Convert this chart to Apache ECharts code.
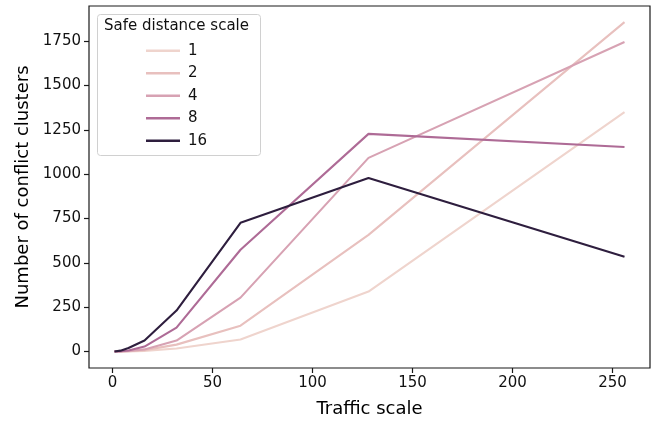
<!DOCTYPE html>
<html><head><meta charset="utf-8">
<script src="https://cdn.jsdelivr.net/npm/echarts@6/dist/echarts.min.js"></script>
<style>html,body{margin:0;padding:0;background:#fff}#c{width:655px;height:424px}</style>
</head><body><div id="c"></div>
<script>
const trafficScale = [1, 2, 4, 8, 16, 32, 64, 128, 256];
const safeDistance = ['1', '2', '4', '8', '16'];
const s1  = [0, 0, 0, 1, 4, 17, 68, 338, 1350];
const s2  = [0, 0, 1, 2, 8, 39, 146, 658, 1857];
const s4  = [0, 0, 1, 3, 12, 62, 304, 1092, 1745];
const s8  = [0, 1, 2, 6, 28, 135, 574, 1227, 1153];
const s16 = [0, 1, 5, 20, 62, 231, 726, 979, 535];
const xTicks = [0, 50, 100, 150, 200, 250];
const yTicks = [0, 250, 500, 750, 1000, 1250, 1500, 1750];
const colors = ['#efd4cd', '#e8c0be', '#d7a2b3', '#ae6b96', '#2e1e3e'];
const seriesValues = [s1, s2, s4, s8, s16];

const font = 'DejaVu Sans';
const chart = echarts.init(document.getElementById('c'), null, {renderer: 'canvas'});
chart.setOption({
  animation: false,
  grid: {left: 89, right: 5, top: 6, bottom: 56, show: true, borderColor: '#1a1a1a', borderWidth: 1.2, backgroundColor: 'transparent'},
  xAxis: {
    type: 'value', min: -11.75, max: 268.75,
    name: 'Traffic scale', nameLocation: 'middle', nameGap: 32,
    nameTextStyle: {fontFamily: font, fontSize: 18, color: '#000'},
    axisLine: {show: false, onZero: false},
    axisTick: {show: true, customValues: xTicks, length: 5, lineStyle: {color: '#1a1a1a', width: 1.2}},
    axisLabel: {customValues: xTicks, fontFamily: font, fontSize: 15, color: '#111', margin: 8, formatter: v => String(v)},
    splitLine: {show: false}
  },
  yAxis: {
    type: 'value', min: -92.75, max: 1948,
    name: 'Number of conflict clusters', nameLocation: 'middle', nameGap: 57,
    nameTextStyle: {fontFamily: font, fontSize: 18, color: '#000'},
    axisLine: {show: false, onZero: false},
    axisTick: {show: true, customValues: yTicks, length: 5, lineStyle: {color: '#1a1a1a', width: 1.2}},
    axisLabel: {customValues: yTicks, fontFamily: font, fontSize: 15, color: '#111', margin: 8, formatter: v => String(v)},
    splitLine: {show: false}
  },
  legend: {
    orient: 'vertical', left: 146, top: 42,
    data: safeDistance,
    icon: 'rect', itemWidth: 34, itemHeight: 2.5, itemGap: 5,
    textStyle: {fontFamily: font, fontSize: 15, color: '#111', padding: [0, 0, 0, 3], lineHeight: 17.5},
    padding: 0
  },
  graphic: [
    {type: 'rect', left: 97, top: 14, shape: {width: 163, height: 141, r: 3},
     style: {fill: 'rgba(255,255,255,0.8)', stroke: '#d0d0d0', lineWidth: 1}, z: 0},
    {type: 'text', left: 104, top: 19, style: {text: 'Safe distance scale', fontFamily: font, fontSize: 15, fill: '#111'}, z: 10}
  ],
  series: seriesValues.map((vals, i) => ({
    name: safeDistance[i], type: 'line',
    data: trafficScale.map((x, j) => [x, vals[j]]),
    showSymbol: false, symbol: 'none',
    lineStyle: {color: colors[i], width: 2.1},
    itemStyle: {color: colors[i]}, z: 2 + i
  }))
});
</script></body></html>
